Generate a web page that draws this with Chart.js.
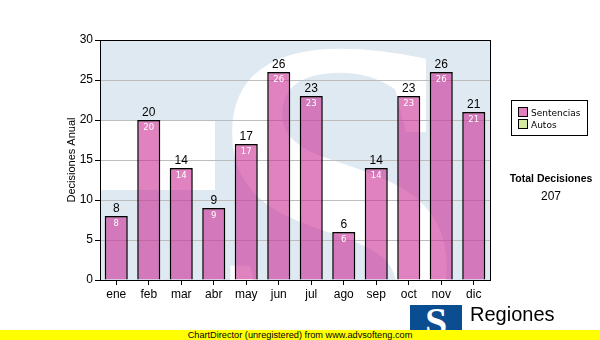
<!DOCTYPE html>
<html>
<head>
<meta charset="utf-8">
<script src="https://cdn.jsdelivr.net/npm/chart.js@4"></script>
<style>
  body { margin: 0; width: 600px; height: 340px; position: relative; overflow: hidden; background: #fff; font-family: "Liberation Sans", Arial, sans-serif; }
  #chart { position: absolute; left: 0; top: 0; }
  .legend { position: absolute; left: 511px; top: 100px; width: 77px; height: 36px; border: 1px solid #000; box-sizing: border-box; font-family: "DejaVu Sans", sans-serif; font-size: 9px; }
  .legend .row { position: absolute; left: 6px; height: 12px; line-height: 12px; }
  .legend .sw { display: inline-block; width: 8px; height: 8px; border: 1px solid #000; vertical-align: -1px; margin-right: 3px; }
  .total { position: absolute; left: 500px; width: 102px; text-align: center; }
  .footer { position: absolute; left: 0; top: 330px; width: 600px; height: 10px; background: #ffff00; font-size: 9.2px; line-height: 10px; text-align: center; color: #000; }
  .logo { position: absolute; left: 410px; top: 305px; width: 52px; height: 35px; background: #0b4d91; color: #fff; font: bold 40px "Liberation Serif", serif; text-align: center; line-height: 34px; overflow: hidden; }
  .brand { position: absolute; left: 470px; top: 303px; font-size: 20px; color: #000; }
</style>
</head>
<body>
<canvas id="chart" width="600" height="340"></canvas>
<div class="legend">
  <div class="row" style="top:6px"><span class="sw" style="background:#e080c0"></span>Sentencias</div>
  <div class="row" style="top:18px"><span class="sw" style="background:#d4e8a0"></span>Autos</div>
</div>
<div class="total" style="top:172px; font-weight:bold; font-size:10.5px;">Total Decisiones</div>
<div class="total" id="totalValue" style="top:189px; font-size:12px;"></div>
<div class="logo">S</div>
<div class="brand">Regiones</div>
<div class="footer">ChartDirector (unregistered) from www.advsofteng.com</div>
<script>
const months = ["ene", "feb", "mar", "abr", "may", "jun", "jul", "ago", "sep", "oct", "nov", "dic"];
const sentencias = [8, 20, 14, 9, 17, 26, 23, 6, 14, 23, 26, 21];
const autos = [0, 0, 0, 0, 0, 0, 0, 0, 0, 0, 0, 0];
const yTicks = [0, 5, 10, 15, 20, 25, 30];

document.getElementById("totalValue").innerText =
  sentencias.reduce((a, b) => a + b, 0) + autos.reduce((a, b) => a + b, 0);

// fondo azul claro con la "S" de marca de agua
const plotBackground = {
  id: "plotBackground",
  beforeDatasetsDraw(chart) {
    const { ctx, chartArea: a } = chart;
    ctx.save();
    ctx.beginPath();
    ctx.rect(a.left, a.top, a.right - a.left, a.bottom - a.top);
    ctx.clip();
    ctx.fillStyle = "#dfe9f1";
    ctx.fillRect(a.left, a.top + 0, a.right - a.left, a.bottom - a.top);
    ctx.fillStyle = "#ffffff";
    ctx.fillRect(a.left, a.top + 80, 115, 70);
    ctx.font = "bold 470px 'Liberation Serif'";
    ctx.textAlign = "center";
    ctx.textBaseline = "alphabetic";
    ctx.fillText("S", 336, 360);
    ctx.restore();
    // líneas de la rejilla por encima del fondo
    const y = chart.scales.y;
    ctx.save();
    ctx.strokeStyle = "#bdbdbd";
    ctx.lineWidth = 1;
    yTicks.slice(1, -1).forEach(v => {
      const py = Math.round(y.getPixelForValue(v)) + 0.5;
      ctx.beginPath();
      ctx.moveTo(a.left, py);
      ctx.lineTo(a.right, py);
      ctx.stroke();
    });
    ctx.restore();
  },
  afterDraw(chart) {
    const { ctx, chartArea: a } = chart;
    ctx.save();
    ctx.strokeStyle = "#000";
    ctx.lineWidth = 1;
    ctx.strokeRect(Math.round(a.left) + 0.5, Math.round(a.top) + 0.5, Math.round(a.right - a.left), Math.round(a.bottom - a.top));
    ctx.restore();
  }
};

const valueLabels = {
  id: "valueLabels",
  afterDatasetsDraw(chart) {
    const { ctx } = chart;
    const meta = chart.getDatasetMeta(0);
    ctx.save();
    ctx.textAlign = "center";
    meta.data.forEach((bar, i) => {
      ctx.fillStyle = "#000";
      ctx.font = "12px 'Liberation Sans'";
      ctx.textBaseline = "bottom";
      ctx.fillText(sentencias[i], bar.x, bar.y - 1);
      ctx.fillStyle = "#fff";
      ctx.font = "8.5px 'DejaVu Sans'";
      ctx.textBaseline = "top";
      ctx.fillText(sentencias[i], bar.x, bar.y + 4);
    });
    ctx.restore();
  }
};

new Chart(document.getElementById("chart"), {
  type: "bar",
  data: {
    labels: months,
    datasets: [{
      label: "Sentencias",
      data: sentencias,
      backgroundColor: "rgba(203, 40, 148, 0.59)",
      borderColor: "#000",
      borderWidth: 1.5,
      borderSkipped: "bottom",
      barPercentage: 0.71,
      categoryPercentage: 1
    }]
  },
  options: {
    responsive: false,
    animation: false,
    layout: { padding: { left: 60, top: 40, right: 110, bottom: 38 } },
    plugins: { legend: { display: false }, tooltip: { enabled: false } },
    scales: {
      x: {
        afterFit(scale) { scale.height = 22; },
        grid: { drawOnChartArea: false, offset: false, tickLength: 5, tickColor: "#000" },
        border: { color: "#000", width: 1 },
        ticks: { color: "#000", font: { family: "Liberation Sans", size: 12 }, padding: 2, maxRotation: 0 }
      },
      y: {
        min: 0,
        max: 30,
        afterFit(scale) { scale.width = 40; },
        afterBuildTicks(scale) { scale.ticks = yTicks.map(v => ({ value: v })); },
        grid: { drawOnChartArea: false, tickLength: 5, tickColor: "#000" },
        border: { color: "#000", width: 1 },
        ticks: { color: "#000", font: { family: "Liberation Sans", size: 12 }, padding: 2 },
        title: { display: true, text: "Decisiones Anual", color: "#000", font: { family: "Liberation Sans", size: 11 }, padding: { top: 5, bottom: 2 } }
      }
    }
  },
  plugins: [plotBackground, valueLabels]
});
</script>
</body>
</html>
